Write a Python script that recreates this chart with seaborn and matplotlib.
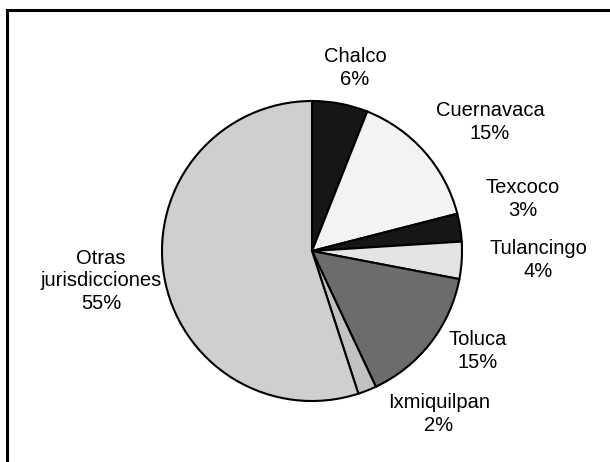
import matplotlib
matplotlib.use("Agg")
import matplotlib.pyplot as plt
import seaborn as sns
from matplotlib.lines import Line2D

# Shares by jurisdiction (percent)
jurisdicciones = ["Chalco", "Cuernavaca", "Texcoco", "Tulancingo", "Toluca",
                  "Ixmiquilpan", "Otras\njurisdicciones"]
porcentajes = [6, 15, 3, 4, 15, 2, 55]

# Grey-scale fills for each slice
colores = ["#161616", "#f3f3f3", "#161616", "#e4e4e4", "#6c6c6c", "#c2c2c2", "#cfcfcf"]

# Label anchor points in pixel coordinates of the 610x462 canvas
etiquetas_px = [(355, 68), (490, 122), (523, 199), (538, 260),
                (478, 351), (439, 414), (101, 281)]

sns.set_theme(style="white")
plt.rcParams["font.family"] = ["Liberation Sans", "DejaVu Sans"]

W, H = 610, 462
CX, CY, R = 312, 251, 150

fig = plt.figure(figsize=(W / 100, H / 100), dpi=100)
ax = fig.add_axes([0, 0, 1, 1])

ax.pie(porcentajes, colors=colores, startangle=90, counterclock=False,
       radius=1.0, center=(0, 0), frame=False,
       wedgeprops=dict(edgecolor="black", linewidth=1.5))
ax.set_xlim(-CX / R, (W - CX) / R)
ax.set_ylim((CY - H) / R, CY / R)
ax.set_aspect("equal")
ax.axis("off")

for nombre, pct, (px, py) in zip(jurisdicciones, porcentajes, etiquetas_px):
    ax.text((px - CX) / R, (CY - py) / R, f"{nombre}\n{pct}%",
            ha="center", va="center", fontsize=14.5, color="black",
            linespacing=1.25)

# Frame lines along the top and left edges
fig.add_artist(Line2D([6.5 / W, 1.0], [1 - 10 / H, 1 - 10 / H],
                      transform=fig.transFigure, color="black", linewidth=2.2,
                      solid_capstyle="projecting"))
fig.add_artist(Line2D([6.5 / W, 6.5 / W], [0.0, 1 - 10 / H],
                      transform=fig.transFigure, color="black", linewidth=2.2,
                      solid_capstyle="projecting"))

fig.savefig("out.png", dpi=100)
